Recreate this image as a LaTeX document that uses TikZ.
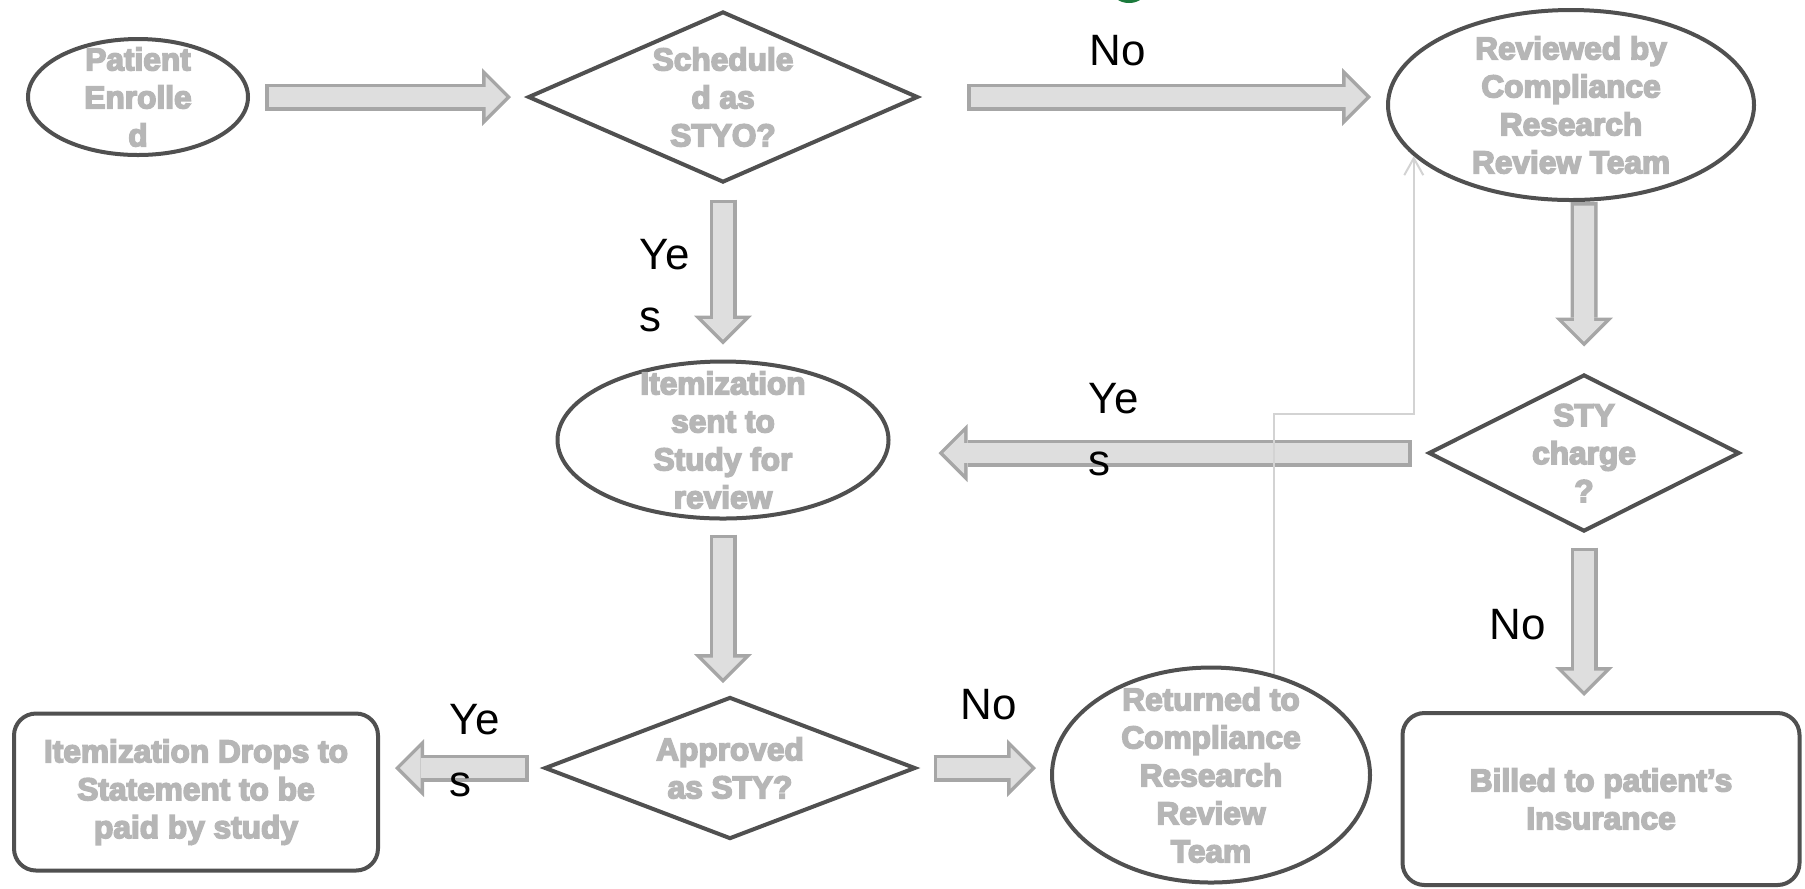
\documentclass[tikz,border=0pt]{standalone}
\usepackage{fontspec}
\setmainfont{Liberation Sans}
\usetikzlibrary{shapes.geometric, arrows.meta}

\definecolor{shapeline}{HTML}{505050}
\definecolor{arrowline}{HTML}{A6A6A6}
\definecolor{arrowbody}{HTML}{DEDEDE}
\definecolor{boxtext}{HTML}{B6B6B6}
\definecolor{backline}{HTML}{D3D3D3}
\definecolor{logogreen}{HTML}{1B7A3C}

\begin{document}
\begin{tikzpicture}[
    oval/.style={draw=shapeline, line width=0.04cm, ellipse, inner sep=0pt},
    decision/.style={draw=shapeline, line width=0.04cm, diamond, inner sep=0pt},
    endbox/.style={draw=shapeline, line width=0.04cm, rectangle, rounded corners=0.22cm, inner sep=0pt},
    box_text/.style={text=boxtext, font=\fontsize{9}{10.8}\selectfont\bfseries, align=center, inner sep=0pt,
        execute at begin node={\special{pdf:literal direct 2 Tr 0.45 w 0.58 0.58 0.58 RG}},
        execute at end node={\special{pdf:literal direct 0 Tr}}},
    answer/.style={font=\fontsize{12.5}{17.4}\selectfont, inner sep=0pt, align=left},
    blockarrow/.style 2 args={
        preaction={draw=arrowline, line width=0.27cm, shorten <=#1, shorten >=#2,
            -{Triangle[length=0.29cm, width=0.58cm, line width=0pt]}},
        draw=arrowbody, line width=0.2cm, shorten <=#1+0.035cm, shorten >=#2+0.049cm,
        -{Triangle[length=0.206cm, width=0.412cm, line width=0pt]}
    },
    backarrow/.style={draw=backline, line width=0.02cm, -{Straight Barb[length=0.17cm, width=0.19cm]}}
]

    \useasboundingbox (0,0) rectangle (18.05,-8.88);

    % bit of a logo cut off at the top
    \fill[logogreen] (11.29,0.08) ellipse (0.16 and 0.11);

    % Shapes
    \node[oval, minimum width=2.20cm, minimum height=1.16cm] (enrolled) at (1.38,-0.97) {};
    \node[decision, minimum width=3.90cm, minimum height=1.71cm] (scheduled) at (7.23,-0.97) {};
    \node[oval, minimum width=3.66cm, minimum height=1.90cm] (reviewed) at (15.71,-1.05) {};
    \node[oval, minimum width=3.31cm, minimum height=1.57cm] (itemized) at (7.23,-4.40) {};
    \node[decision, minimum width=3.11cm, minimum height=1.57cm] (stycharge) at (15.84,-4.53) {};
    \node[decision, minimum width=3.71cm, minimum height=1.42cm] (approved) at (7.30,-7.68) {};
    \node[endbox, minimum width=3.64cm, minimum height=1.57cm] (drops) at (1.96,-7.92) {};
    \node[oval, minimum width=3.18cm, minimum height=2.15cm] (returned) at (12.11,-7.75) {};
    \node[endbox, minimum width=3.97cm, minimum height=1.72cm] (billed) at (16.01,-7.99) {};

    % Texts in the shapes
    \node[box_text] (enrolled-txt) at (enrolled) {Patient\\Enrolle\\d};
    \node[box_text] (scheduled-txt) at (scheduled) {Schedule\\d as\\STYO?};
    \node[box_text] (reviewed-txt) at (reviewed) {Reviewed by\\Compliance\\Research\\Review Team};
    \node[box_text] (itemized-txt) at (itemized) {Itemization\\sent to\\Study for\\review};
    \node[box_text] (stycharge-txt) at (stycharge) {STY\\charge\\?};
    \node[box_text] (approved-txt) at (approved) {Approved\\as STY?};
    \node[box_text] (drops-txt) at (drops) {Itemization Drops to\\Statement to be\\paid by study};
    \node[box_text] (returned-txt) at (returned) {Returned to\\Compliance\\Research\\Review\\Team};
    \node[box_text] (billed-txt) at (billed) {Billed to patient’s\\Insurance};

    % Block arrows
    \draw[blockarrow={0.15cm}{0.15cm}] (enrolled) -- (scheduled);
    \draw[blockarrow={0.47cm}{0.15cm}] (scheduled.east) -- (scheduled.east -| reviewed.west); % No
    \draw[blockarrow={0.15cm}{0.15cm}] (scheduled) -- (itemized); % Yes
    \draw[blockarrow={0cm}{0.26cm}] ([xshift=0.13cm]reviewed.south) -- (stycharge.north);
    \draw[blockarrow={0.15cm}{0.48cm}] (stycharge.west) -- (stycharge.west -| itemized.east); % Yes
    \draw[blockarrow={0.14cm}{0.12cm}] (itemized.south) -- (itemized.south |- approved.north);
    \draw[blockarrow={0.14cm}{0.15cm}] (approved.west) -- (approved.west -| drops.east); % Yes
    \draw[blockarrow={0.16cm}{0.14cm}] (approved.east) -- (approved.east -| returned.west); % No
    \draw[blockarrow={0.14cm}{0.15cm}] (stycharge.south) -- (stycharge.south |- billed.north); % No

    % thin line back to the review team
    \draw[backarrow] (returned.58) |- ([yshift=-2.58cm]reviewed.198) -- (reviewed.198);

    % Answers
    \node[answer] (no-top) at (11.18,-0.51) {No};
    \node[answer, anchor=north west] (yes-down) at (6.39,-2.39) {Ye\\s};
    \node[answer, anchor=north west] (yes-mid) at (10.88,-3.83) {Ye\\s};
    \node[answer, anchor=north west] (yes-left) at (4.49,-7.04) {Ye\\s};
    \node[answer] (no-bottom) at (9.89,-7.05) {No};
    \node[answer] (no-right) at (15.18,-6.25) {No};

\end{tikzpicture}
\end{document}
